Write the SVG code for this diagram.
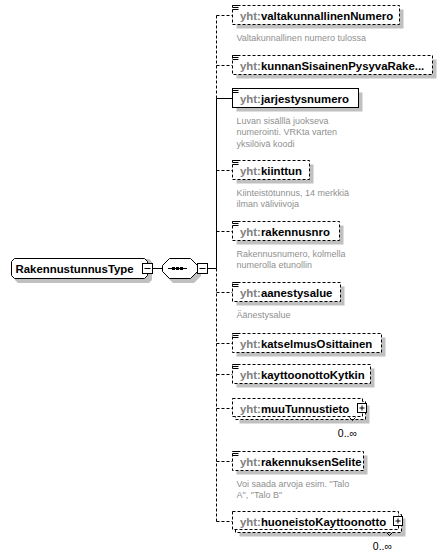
<svg xmlns="http://www.w3.org/2000/svg" width="447" height="558" viewBox="0 0 447 558">
<style>
.bg{fill:#fff}
.box{fill:#fff;stroke:#000;stroke-width:1}
.dash{stroke-dasharray:3,2}
.sh{fill:#c0c0c0}
.ln{stroke:#000;stroke-width:1;fill:none}
.nm{font-family:"Liberation Sans",Arial,sans-serif;font-weight:bold;font-size:11.4px;fill:#000}
.pfx{fill:#808080}
.desc{font-family:"Liberation Sans",Arial,sans-serif;font-size:9px;fill:#909090}
.occ{font-family:"Liberation Sans",Arial,sans-serif;font-size:10.5px;fill:#000}
.btn{fill:#fff;stroke:#000;stroke-width:1}
</style>
<rect class="bg" x="0" y="0" width="447" height="558"/>

<g id="connectors">
  <line class="ln" x1="152.5" y1="268.5" x2="162" y2="268.5"/>
  <line class="ln" x1="207" y1="268.5" x2="216.5" y2="268.5"/>
  <line class="ln dash" x1="216.5" y1="15.5" x2="216.5" y2="98.5"/>
  <line class="ln" x1="216.5" y1="98.5" x2="216.5" y2="268.5"/>
  <line class="ln dash" x1="216.5" y1="268.5" x2="216.5" y2="521.5"/>
  <line class="ln dash" x1="216.5" y1="15.5" x2="232.5" y2="15.5"/>
  <line class="ln dash" x1="216.5" y1="65.5" x2="232.5" y2="65.5"/>
  <line class="ln" x1="216.5" y1="98.5" x2="232.5" y2="98.5"/>
  <line class="ln dash" x1="216.5" y1="170.5" x2="232.5" y2="170.5"/>
  <line class="ln dash" x1="216.5" y1="231.5" x2="232.5" y2="231.5"/>
  <line class="ln dash" x1="216.5" y1="292.5" x2="232.5" y2="292.5"/>
  <line class="ln dash" x1="216.5" y1="343.5" x2="232.5" y2="343.5"/>
  <line class="ln dash" x1="216.5" y1="374.5" x2="232.5" y2="374.5"/>
  <line class="ln dash" x1="216.5" y1="408.5" x2="232.5" y2="408.5"/>
  <line class="ln dash" x1="216.5" y1="461.5" x2="232.5" y2="461.5"/>
  <line class="ln dash" x1="216.5" y1="521.5" x2="232.5" y2="521.5"/>
</g>

<g id="RakennustunnusType">
  <polygon class="sh" points="15,262 18,259 149,259 152,262 152,280 149,283 18,283 15,280"/>
  <polygon class="box" points="11.5,261.5 14.5,258.5 144.5,258.5 147.5,261.5 147.5,275.5 144.5,278.5 14.5,278.5 11.5,275.5"/>
  <text class="nm" x="15.5" y="272.5">RakennustunnusType</text>
  <rect class="btn" x="142.5" y="263.5" width="10" height="10"/>
  <line class="ln" x1="144.5" y1="268.5" x2="150.5" y2="268.5"/>
</g>

<g id="sequence">
  <polygon class="sh" points="166,269 173,262 194,262 201,269 201,276 194,283 173,283 166,276"/>
  <polygon class="box" points="162.5,265.5 169.5,258.5 190.5,258.5 197.5,265.5 197.5,271.5 190.5,278.5 169.5,278.5 162.5,271.5"/>
  <line class="ln" x1="168" y1="268.5" x2="187" y2="268.5"/>
  <rect x="172" y="267" width="3" height="3" fill="#000"/>
  <rect x="176" y="267" width="3" height="3" fill="#000"/>
  <rect x="180" y="267" width="3" height="3" fill="#000"/>
  <rect class="btn" x="197.5" y="263.5" width="10" height="10"/>
  <line class="ln" x1="199.5" y1="268.5" x2="205.5" y2="268.5"/>
</g>

<g id="valtakunnallinenNumero">
  <rect class="sh" x="236.5" y="9.5" width="167" height="19"/>
  <rect class="box dash" x="232.5" y="5.5" width="167" height="19"/>
  <path class="ln" d="M232.5 5.5h6M232.5 7.5h6M232.5 9.5h6"/>
  <text class="nm" x="240" y="19.5"><tspan class="pfx">yht:</tspan>valtakunnallinenNumero</text>
  <text class="desc" x="236.5" y="41">Valtakunnallinen numero tulossa</text>
</g>

<g id="kunnanSisainenPysyvaRake">
  <rect class="sh" x="236.5" y="59.5" width="200" height="19"/>
  <rect class="box dash" x="232.5" y="55.5" width="200" height="19"/>
  <path class="ln" d="M232.5 55.5h6M232.5 57.5h6M232.5 59.5h6"/>
  <text class="nm" x="240" y="69.5"><tspan class="pfx">yht:</tspan>kunnanSisainenPysyvaRake...</text>
</g>

<g id="jarjestysnumero">
  <rect class="sh" x="236.5" y="92.5" width="126" height="19"/>
  <rect class="box" x="232.5" y="88.5" width="126" height="19"/>
  <path class="ln" d="M232.5 88.5h6M232.5 90.5h6M232.5 92.5h6"/>
  <text class="nm" x="240" y="102.5"><tspan class="pfx">yht:</tspan>jarjestysnumero</text>
  <text class="desc" x="236.5" y="124">Luvan sisälllä juokseva</text>
  <text class="desc" x="236.5" y="135">numerointi. VRKta varten</text>
  <text class="desc" x="236.5" y="146.5">yksilöivä koodi</text>
</g>

<g id="kiinttun">
  <rect class="sh" x="236.5" y="164.5" width="77" height="19"/>
  <rect class="box dash" x="232.5" y="160.5" width="77" height="19"/>
  <path class="ln" d="M232.5 160.5h6M232.5 162.5h6M232.5 164.5h6"/>
  <text class="nm" x="240" y="174.5"><tspan class="pfx">yht:</tspan>kiinttun</text>
  <text class="desc" x="236.5" y="196">Kiinteistötunnus, 14 merkkiä</text>
  <text class="desc" x="236.5" y="207">ilman väliviivoja</text>
</g>

<g id="rakennusnro">
  <rect class="sh" x="236.5" y="225.5" width="107" height="19"/>
  <rect class="box dash" x="232.5" y="221.5" width="107" height="19"/>
  <path class="ln" d="M232.5 221.5h6M232.5 223.5h6M232.5 225.5h6"/>
  <text class="nm" x="240" y="235.5"><tspan class="pfx">yht:</tspan>rakennusnro</text>
  <text class="desc" x="236.5" y="257">Rakennusnumero, kolmella</text>
  <text class="desc" x="236.5" y="268">numerolla etunollin</text>
</g>

<g id="aanestysalue">
  <rect class="sh" x="236.5" y="286.5" width="108" height="19"/>
  <rect class="box dash" x="232.5" y="282.5" width="108" height="19"/>
  <path class="ln" d="M232.5 282.5h6M232.5 284.5h6M232.5 286.5h6"/>
  <text class="nm" x="240" y="296.5"><tspan class="pfx">yht:</tspan>aanestysalue</text>
  <text class="desc" x="236.5" y="318">Äänestysalue</text>
</g>

<g id="katselmusOsittainen">
  <rect class="sh" x="236.5" y="337.5" width="149" height="19"/>
  <rect class="box dash" x="232.5" y="333.5" width="149" height="19"/>
  <path class="ln" d="M232.5 333.5h6M232.5 335.5h6M232.5 337.5h6"/>
  <text class="nm" x="240" y="347.5"><tspan class="pfx">yht:</tspan>katselmusOsittainen</text>
</g>

<g id="kayttoonottoKytkin">
  <rect class="sh" x="236.5" y="368.5" width="138" height="19"/>
  <rect class="box dash" x="232.5" y="364.5" width="138" height="19"/>
  <path class="ln" d="M232.5 364.5h6M232.5 366.5h6M232.5 368.5h6"/>
  <text class="nm" x="240" y="378.5"><tspan class="pfx">yht:</tspan>kayttoonottoKytkin</text>
</g>

<g id="muuTunnustieto">
  <rect class="sh" x="239.5" y="405.5" width="130" height="18"/>
  <rect class="box dash" x="235.5" y="401.5" width="130" height="18"/>
  <rect class="box dash" x="232.5" y="398.5" width="130" height="18"/>
  <path class="ln" d="M349.5 417.5l3 3l3 -3"/>
  <text class="nm" x="240" y="412.5"><tspan class="pfx">yht:</tspan>muuTunnustieto</text>
  <rect class="btn" x="357.5" y="403.5" width="9" height="9"/>
  <path class="ln" d="M359.5 408h5M362 405.5v5"/>
  <text class="occ" x="357" y="437" text-anchor="end">0..∞</text>
</g>

<g id="rakennuksenSelite">
  <rect class="sh" x="236.5" y="455.5" width="131" height="19"/>
  <rect class="box dash" x="232.5" y="451.5" width="131" height="19"/>
  <path class="ln" d="M232.5 451.5h6M232.5 453.5h6M232.5 455.5h6"/>
  <text class="nm" x="240" y="465.5"><tspan class="pfx">yht:</tspan>rakennuksenSelite</text>
  <text class="desc" x="236.5" y="487">Voi saada arvoja esim. "Talo</text>
  <text class="desc" x="236.5" y="498">A", "Talo B"</text>
</g>

<g id="huoneistoKayttoonotto">
  <rect class="sh" x="239.5" y="518.5" width="166" height="18"/>
  <rect class="box dash" x="235.5" y="514.5" width="166" height="18"/>
  <rect class="box dash" x="232.5" y="511.5" width="166" height="18"/>
  <path class="ln" d="M386.5 532.5l3 3l3 -3"/>
  <text class="nm" x="240" y="525.5"><tspan class="pfx">yht:</tspan>huoneistoKayttoonotto</text>
  <rect class="btn" x="393.5" y="516.5" width="9" height="9"/>
  <path class="ln" d="M395.5 521h5M398 518.5v5"/>
  <text class="occ" x="392" y="550" text-anchor="end">0..∞</text>
</g>
</svg>
